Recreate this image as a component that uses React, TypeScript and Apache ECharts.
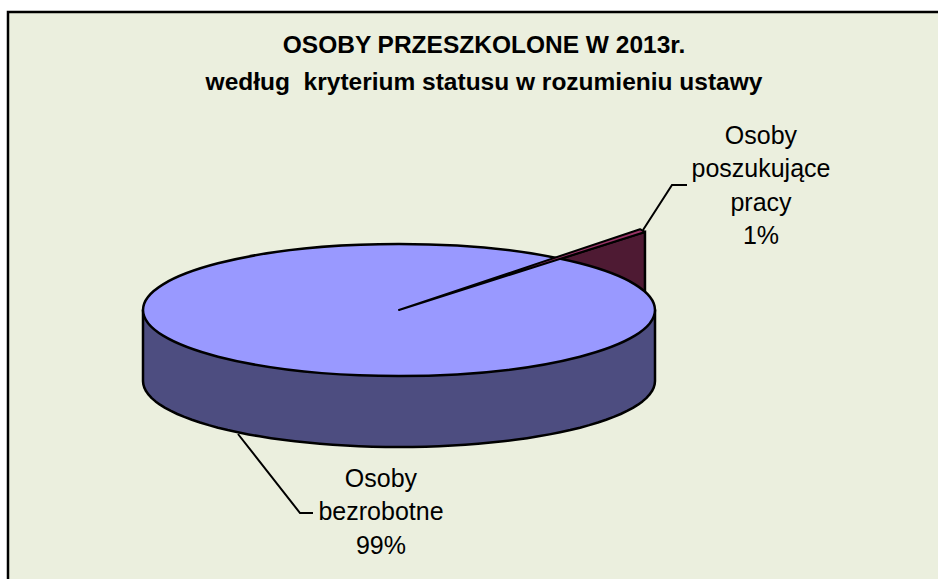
import React, { useEffect, useRef } from "react";
import * as echarts from "echarts";

const titleLines = ["OSOBY PRZESZKOLONE W 2013r.", "według  kryterium statusu w rozumieniu ustawy"];
const categories = ["Osoby\nbezrobotne", "Osoby\nposzukujące\npracy"];
const percentValues = [99, 1];

const FONT = '"Liberation Sans", Arial, sans-serif';
const BG = "#EBEFDE";
const TOP = "#9999FF";
const SIDE = "#4D4D80";
const WALL = "#4E1A33";
const STRIP = "#993366";

const CX = 399, CY = 310, RX = 256, RY = 66, DEPTH = 71;
const SLICE_START = 16.1;
const SHEAR = 0.243;

const labelPos = [
  { x: 381, y: 511 },
  { x: 761, y: 185 },
];
const leaders = [
  [[238, 434], [300, 513], [313, 513]],
  [[643, 230], [672, 185], [687, 185]],
];

function renderItem(params: any, api: any) {
  const i = params.dataIndex;
  const value = api.value(0);
  const total = percentValues.reduce((a, b) => a + b, 0);
  const children: any[] = [];
  const line = { stroke: "#000", lineWidth: 2 };
  if (i === 0) {
    const pts: number[][] = [];
    for (let d = 0; d <= 180; d += 3) {
      const t = (d * Math.PI) / 180;
      pts.push([CX + RX * Math.cos(t), CY + DEPTH + RY * Math.sin(t)]);
    }
    pts.push([CX - RX, CY], [CX + RX, CY]);
    children.push({
      type: "polygon", z2: 1, shape: { points: pts },
      style: { fill: SIDE, stroke: "#000", lineWidth: 2.5, lineJoin: "round" },
    });
    children.push({
      type: "ellipse", z2: 3, shape: { cx: CX, cy: CY, rx: RX, ry: RY },
      style: { fill: TOP, stroke: "#000", lineWidth: 2.5 },
    });
  } else {
    const sweep = (value / total) * 360;
    const at = (deg: number) => {
      const t = (deg * Math.PI) / 180;
      const dx = RX * Math.cos(t);
      return [CX + dx, CY - RY * Math.sin(t) - SHEAR * dx];
    };
    const a = at(SLICE_START);
    const b = at(SLICE_START + sweep);
    children.push({
      type: "polygon", z2: 2, shape: { points: [[CX, CY], a, [a[0], CY]] },
      style: { fill: WALL, stroke: "#000", lineWidth: 2.5 },
    });
    children.push({
      type: "polygon", z2: 4, shape: { points: [[CX, CY], a, b] },
      style: { fill: STRIP, stroke: "#000", lineWidth: 2, lineJoin: "round" },
    });
  }
  children.push({
    type: "polyline", z2: 5, shape: { points: leaders[i] },
    style: { ...line, fill: "none" },
  });
  children.push({
    type: "text", z2: 6,
    style: {
      text: `${categories[i]}\n${value}%`,
      x: labelPos[i].x, y: labelPos[i].y,
      fill: "#000", fontFamily: FONT, fontSize: 25, lineHeight: 33.5,
      align: "center", verticalAlign: "middle",
    },
  });
  return { type: "group", children };
}

export default function App() {
  const ref = useRef<HTMLDivElement>(null);
  useEffect(() => {
    document.body.style.margin = "0";
    document.body.style.overflow = "hidden";
    const chart = echarts.init(ref.current!, undefined, { renderer: "svg" });
    chart.setOption({
      animation: false,
      backgroundColor: "#fff",
      title: {
        text: titleLines.join("\n"),
        left: 479, top: 21, textAlign: "center",
        textStyle: { fontFamily: FONT, fontSize: 24.5, fontWeight: "bold", color: "#000", lineHeight: 37 },
      },
      graphic: [{
        type: "rect", z: -1,
        shape: { x: 8, y: 12, width: 960, height: 600 },
        style: { fill: BG, stroke: "#000", lineWidth: 2.5 },
      }],
      series: [{
        type: "custom",
        coordinateSystem: "none",
        renderItem,
        silent: true,
        data: percentValues.map((v, i) => ({ name: categories[i], value: [v] })),
      }],
    });
    return () => chart.dispose();
  }, []);
  return <div ref={ref} style={{ width: 938, height: 579 }} />;
}
